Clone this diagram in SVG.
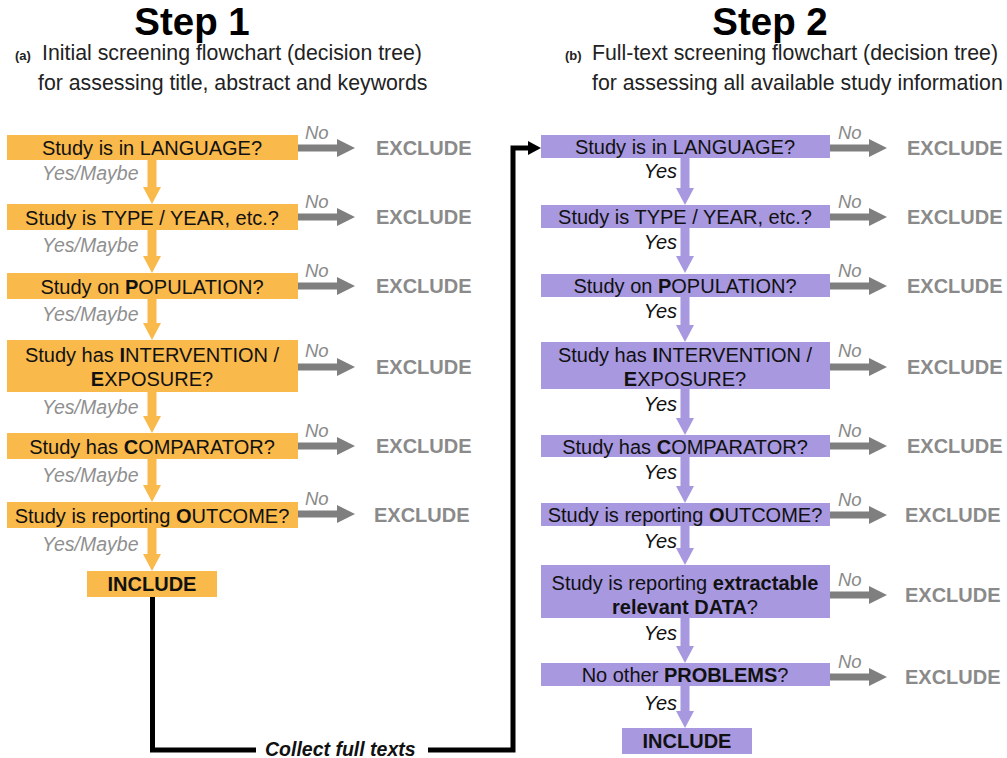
<svg xmlns="http://www.w3.org/2000/svg" width="1007" height="758" viewBox="0 0 1007 758">
<style>
text{font-family:"Liberation Sans",Arial,sans-serif;}
.title{font-size:38.5px;font-weight:bold;fill:#000;text-anchor:middle;}
.sub{font-size:21.3px;fill:#222;}
.tag{font-size:13px;font-weight:bold;fill:#222;}
.bt{font-size:20px;fill:#111;text-anchor:middle;}
.b{font-weight:bold;}
.o{fill:#F9B94B;}
.p{fill:#A898E0;}
.ga{fill:#7f7f7f;}
.no{font-size:18.5px;font-style:italic;fill:#8a8a8a;}
.ex{font-size:20px;font-weight:bold;fill:#8a8a8a;}
.ym{font-size:19.5px;font-style:italic;fill:#8f8f8f;}
.yes{font-size:20px;font-style:italic;fill:#111;text-anchor:end;}
.inc{font-size:20px;font-weight:bold;fill:#111;text-anchor:middle;}
.cft{font-size:19.5px;font-weight:bold;font-style:italic;fill:#111;}
</style>
<defs>
<path id="ha" d="M0,-3.5 H39 V-9 L57,0 L39,9 V3.5 H0 Z"/>
</defs>

<g id="titles">
<text class="title" x="192" y="35">Step 1</text>
<text class="tag" x="15" y="60">(a)</text>
<text class="sub" x="42" y="60">Initial screening flowchart (decision tree)</text>
<text class="sub" x="38" y="90">for assessing title, abstract and keywords</text>
<text class="title" x="770" y="35">Step 2</text>
<text class="tag" x="565" y="60">(b)</text>
<text class="sub" x="592" y="60">Full-text screening flowchart (decision tree)</text>
<text class="sub" x="592" y="90">for assessing all available study information</text>
</g>

<g id="connectors">
<g class="o">
<path d="M147.5,160 V187 H143 L152,204 L161,187 H156.5 V160 Z"/>
<path d="M147.5,230 V256 H143 L152,273 L161,256 H156.5 V230 Z"/>
<path d="M147.5,299 V323 H143 L152,340 L161,323 H156.5 V299 Z"/>
<path d="M147.5,392 V416 H143 L152,433 L161,416 H156.5 V392 Z"/>
<path d="M147.5,459 V485 H143 L152,502 L161,485 H156.5 V459 Z"/>
<path d="M147.5,528 V554 H143 L152,571 L161,554 H156.5 V528 Z"/>
</g>
<g class="p">
<path d="M680.5,157 V188 H676 L685,205 L694,188 H689.5 V157 Z"/>
<path d="M680.5,228 V256 H676 L685,273 L694,256 H689.5 V228 Z"/>
<path d="M680.5,297 V325 H676 L685,342 L694,325 H689.5 V297 Z"/>
<path d="M680.5,389 V418 H676 L685,435 L694,418 H689.5 V389 Z"/>
<path d="M680.5,457 V486 H676 L685,503 L694,486 H689.5 V457 Z"/>
<path d="M680.5,526 V548 H676 L685,565 L694,548 H689.5 V526 Z"/>
<path d="M680.5,618 V646 H676 L685,663 L694,646 H689.5 V618 Z"/>
<path d="M680.5,686 V711 H676 L685,728 L694,711 H689.5 V686 Z"/>
</g>
<g class="ga">
<use href="#ha" x="298" y="148"/>
<use href="#ha" x="298" y="217"/>
<use href="#ha" x="298" y="286"/>
<use href="#ha" x="298" y="367"/>
<use href="#ha" x="298" y="446"/>
<use href="#ha" x="298" y="514"/>
<use href="#ha" x="830" y="148"/>
<use href="#ha" x="830" y="217"/>
<use href="#ha" x="830" y="286"/>
<use href="#ha" x="830" y="367"/>
<use href="#ha" x="830" y="446"/>
<use href="#ha" x="830" y="515"/>
<use href="#ha" x="830" y="595"/>
<use href="#ha" x="830" y="677"/>
</g>
<path d="M152.5,597 V750 H256 M428,750 H513 V148 H530" fill="none" stroke="#000" stroke-width="5"/>
<path d="M528,141 L541,148 L528,155 Z" fill="#000"/>
<text class="cft" x="265" y="756">Collect full texts</text>
<g>
<text class="no" x="305" y="139">No</text>
<text class="no" x="305" y="208">No</text>
<text class="no" x="305" y="277">No</text>
<text class="no" x="305" y="357">No</text>
<text class="no" x="305" y="437">No</text>
<text class="no" x="305" y="505">No</text>
<text class="no" x="838" y="139">No</text>
<text class="no" x="838" y="208">No</text>
<text class="no" x="838" y="277">No</text>
<text class="no" x="838" y="357">No</text>
<text class="no" x="838" y="437">No</text>
<text class="no" x="838" y="506">No</text>
<text class="no" x="838" y="586">No</text>
<text class="no" x="838" y="668">No</text>
</g>
<g>
<text class="ym" x="42" y="180">Yes/Maybe</text>
<text class="ym" x="42" y="252">Yes/Maybe</text>
<text class="ym" x="42" y="321">Yes/Maybe</text>
<text class="ym" x="42" y="414">Yes/Maybe</text>
<text class="ym" x="42" y="482">Yes/Maybe</text>
<text class="ym" x="42" y="551">Yes/Maybe</text>
<text class="yes" x="677" y="178">Yes</text>
<text class="yes" x="677" y="249">Yes</text>
<text class="yes" x="677" y="318">Yes</text>
<text class="yes" x="677" y="411">Yes</text>
<text class="yes" x="677" y="479">Yes</text>
<text class="yes" x="677" y="548">Yes</text>
<text class="yes" x="677" y="640">Yes</text>
<text class="yes" x="677" y="710">Yes</text>
</g>
</g>

<g id="left-nodes">
<g id="l1"><rect class="o" x="7" y="135" width="291" height="25"/><text class="bt" x="152" y="155">Study is in LANGUAGE?</text></g>
<g id="l2"><rect class="o" x="7" y="204" width="291" height="26"/><text class="bt" x="152" y="224.5">Study is TYPE / YEAR, etc.?</text></g>
<g id="l3"><rect class="o" x="7" y="273" width="291" height="26"/><text class="bt" x="152" y="293.5">Study on <tspan class="b">P</tspan>OPULATION?</text></g>
<g id="l4"><rect class="o" x="7" y="340" width="291" height="52"/><text class="bt" x="152" y="362">Study has <tspan class="b">I</tspan>NTERVENTION /</text><text class="bt" x="152" y="386"><tspan class="b">E</tspan>XPOSURE?</text></g>
<g id="l5"><rect class="o" x="7" y="433" width="291" height="26"/><text class="bt" x="152" y="453.5">Study has <tspan class="b">C</tspan>OMPARATOR?</text></g>
<g id="l6"><rect class="o" x="7" y="502" width="291" height="26"/><text class="bt" x="152" y="522.5">Study is reporting <tspan class="b">O</tspan>UTCOME?</text></g>
<g id="l7"><rect class="o" x="87" y="571" width="130" height="26"/><text class="inc" x="152" y="591">INCLUDE</text></g>
</g>

<g id="right-nodes">
<g id="r1"><rect class="p" x="541" y="135" width="289" height="23"/><text class="bt" x="685" y="154">Study is in LANGUAGE?</text></g>
<g id="r2"><rect class="p" x="541" y="205" width="289" height="23"/><text class="bt" x="685" y="224">Study is TYPE / YEAR, etc.?</text></g>
<g id="r3"><rect class="p" x="541" y="274" width="289" height="23"/><text class="bt" x="685" y="293">Study on <tspan class="b">P</tspan>OPULATION?</text></g>
<g id="r4"><rect class="p" x="541" y="342" width="289" height="47"/><text class="bt" x="685" y="362">Study has <tspan class="b">I</tspan>NTERVENTION /</text><text class="bt" x="685" y="386"><tspan class="b">E</tspan>XPOSURE?</text></g>
<g id="r5"><rect class="p" x="541" y="435" width="289" height="22"/><text class="bt" x="685" y="453.5">Study has <tspan class="b">C</tspan>OMPARATOR?</text></g>
<g id="r6"><rect class="p" x="541" y="503" width="289" height="23"/><text class="bt" x="685" y="522">Study is reporting <tspan class="b">O</tspan>UTCOME?</text></g>
<g id="r7"><rect class="p" x="541" y="565" width="289" height="53"/><text class="bt" x="685" y="590">Study is reporting <tspan class="b">extractable</tspan></text><text class="bt" x="685" y="614"><tspan class="b">relevant DATA</tspan>?</text></g>
<g id="r8"><rect class="p" x="541" y="663" width="289" height="23"/><text class="bt" x="685" y="682">No other <tspan class="b">PROBLEMS</tspan>?</text></g>
<g id="r9"><rect class="p" x="622" y="728" width="130" height="26"/><text class="inc" x="687" y="748">INCLUDE</text></g>
</g>

<g id="excludes">
<text class="ex" x="376" y="155">EXCLUDE</text>
<text class="ex" x="376" y="224">EXCLUDE</text>
<text class="ex" x="376" y="293">EXCLUDE</text>
<text class="ex" x="376" y="374">EXCLUDE</text>
<text class="ex" x="376" y="453">EXCLUDE</text>
<text class="ex" x="374" y="522">EXCLUDE</text>
<text class="ex" x="907" y="155">EXCLUDE</text>
<text class="ex" x="907" y="224">EXCLUDE</text>
<text class="ex" x="907" y="293">EXCLUDE</text>
<text class="ex" x="907" y="374">EXCLUDE</text>
<text class="ex" x="907" y="453">EXCLUDE</text>
<text class="ex" x="905" y="522">EXCLUDE</text>
<text class="ex" x="905" y="602">EXCLUDE</text>
<text class="ex" x="905" y="684">EXCLUDE</text>
</g>
</svg>
